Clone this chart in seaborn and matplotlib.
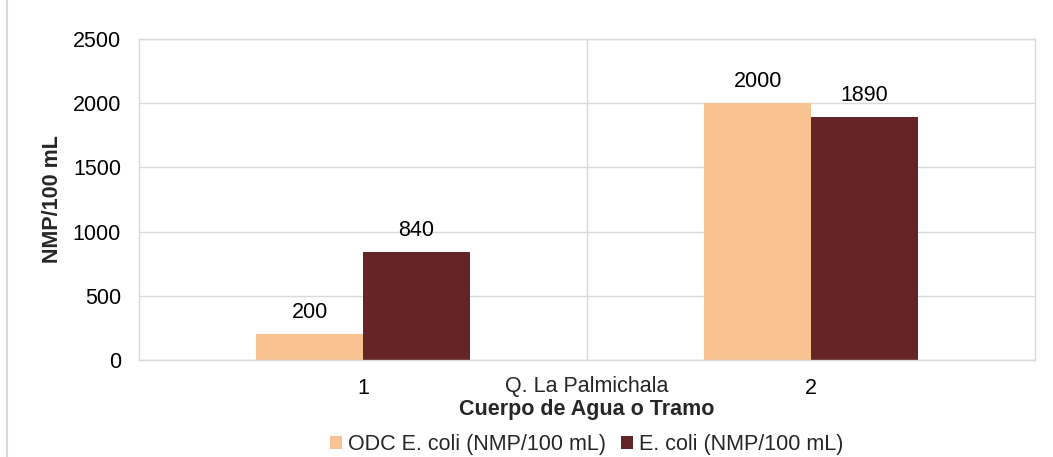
import pandas as pd
import seaborn as sns
import matplotlib.pyplot as plt

# datos
tramos = ['1', '2']
odc_ecoli = [200, 2000]
ecoli = [840, 1890]
serie_odc = 'ODC E. coli (NMP/100 mL)'
serie_ecoli = 'E. coli (NMP/100 mL)'
grupo = 'Q. La Palmichala'

sns.set_theme(style='white')
plt.rcParams['font.family'] = ['Liberation Sans', 'DejaVu Sans']
fs = 15.5

df = pd.DataFrame({
    'tramo': tramos * 2,
    'valor': odc_ecoli + ecoli,
    'serie': [serie_odc] * len(tramos) + [serie_ecoli] * len(tramos),
})

fig = plt.figure(figsize=(10.53, 4.57), dpi=100)
ax = fig.add_axes([0.132, 0.212, 0.851, 0.703])

sns.barplot(data=df, x='tramo', y='valor', hue='serie', order=tramos,
            hue_order=[serie_odc, serie_ecoli],
            palette=['#F9C291', '#652527'], width=0.476, saturation=1,
            linewidth=0, ax=ax)

for cont in ax.containers:
    ax.bar_label(cont, fmt='%d', padding=8, fontsize=fs, color='#000000')

ax.set_ylim(0, 2500)
ax.set_yticks(range(0, 2501, 500))
ax.set_xlim(-0.5, 1.5)
ax.yaxis.grid(True, color='#D9D9D9', linewidth=1)
ax.axvline(0.5, color='#D9D9D9', linewidth=1)
ax.set_axisbelow(True)
for s in ax.spines.values():
    s.set_color('#D9D9D9')
    s.set_linewidth(1)
ax.tick_params(axis='both', length=0, labelsize=fs, colors='#000000', pad=13)

ax.set_ylabel('NMP/100 mL', fontsize=fs, fontweight='bold')
ax.yaxis.set_label_coords(-0.085, 0.5)
ax.set_xlabel('')
ax.text(0.5, -0.081, grupo, transform=ax.transAxes, ha='center', va='center', fontsize=fs)
ax.text(0.5, -0.153, 'Cuerpo de Agua o Tramo', transform=ax.transAxes, ha='center',
        va='center', fontsize=fs, fontweight='bold')

ax.legend(loc='center', bbox_to_anchor=(0.5, -0.262), ncol=2, frameon=False,
          fontsize=fs, handlelength=0.53, handleheight=0.53, handletextpad=0.3,
          columnspacing=0.7, borderaxespad=0, borderpad=0)

# borde exterior del grafico
fig.add_artist(plt.Line2D([0.0066, 0.0066], [0, 1], color='#D9D9D9', linewidth=1.5))

fig.savefig('out.png', dpi=100)
